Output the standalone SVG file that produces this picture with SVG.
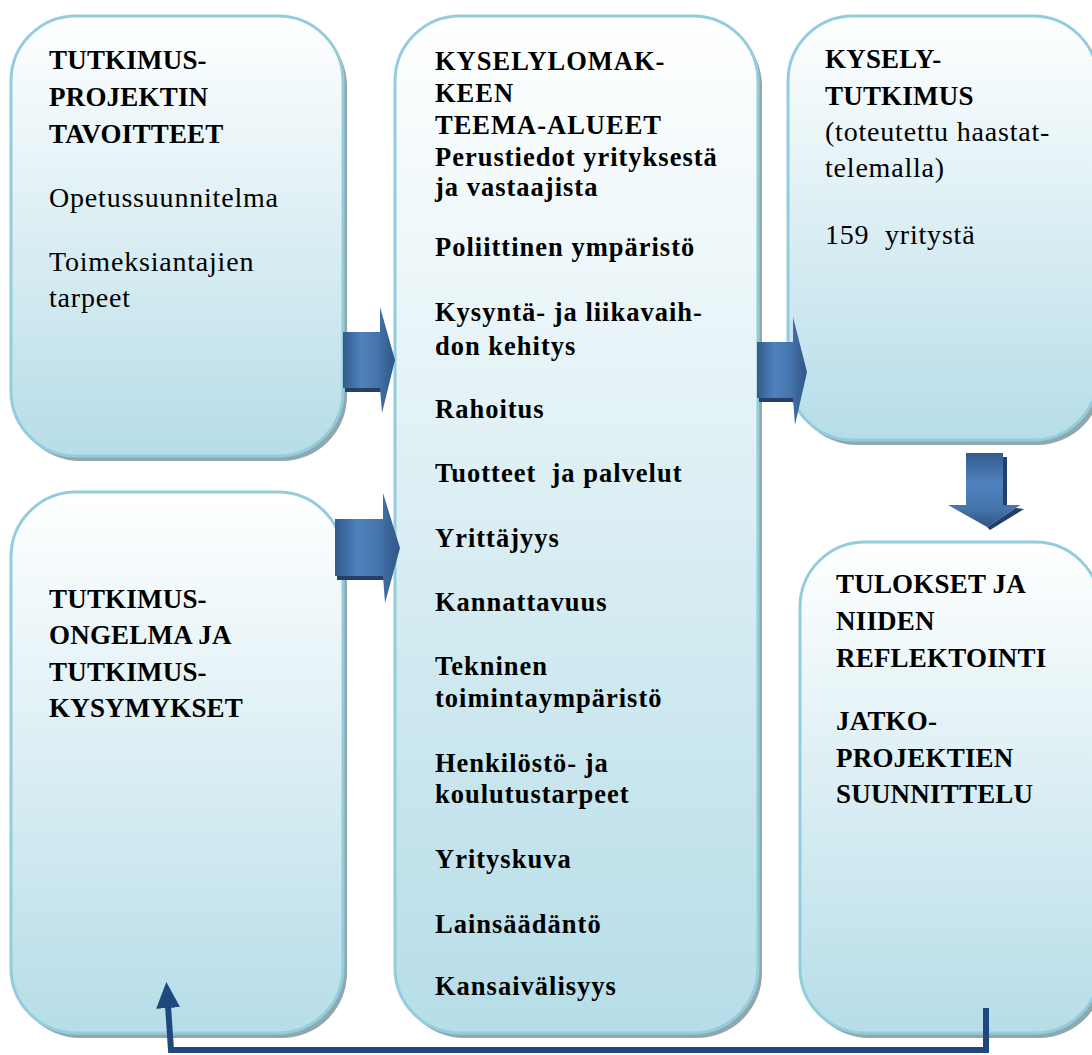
<svg xmlns="http://www.w3.org/2000/svg" width="1092" height="1055" viewBox="0 0 1092 1055">
<defs>
<style>
.box{fill:url(#bg);stroke:#93cddd;stroke-width:3}
.sh{fill:#8fa8ae}
text{font-family:"Liberation Serif","Times New Roman",serif;fill:#000}
.b{font-weight:bold;font-size:27px;letter-spacing:0.2px}
.bm{font-weight:bold;font-size:26.5px;letter-spacing:1px}
.r{font-size:28px;letter-spacing:0.8px}
.arr{fill:url(#ag)}
.arrv{fill:url(#agv)}
.ash{fill:#24406a}
.conn{fill:none;stroke:#1f497d;stroke-width:6}
</style>
<linearGradient id="bg" x1="0" y1="0" x2="0" y2="1">
<stop offset="0" stop-color="#ffffff"/>
<stop offset="1" stop-color="#b6dde8"/>
</linearGradient>
<linearGradient id="ag" x1="0" y1="0" x2="1" y2="0">
<stop offset="0" stop-color="#335b8c"/>
<stop offset="0.35" stop-color="#4f81bd"/>
<stop offset="0.65" stop-color="#4675ad"/>
<stop offset="1" stop-color="#2f5586"/>
</linearGradient>
<linearGradient id="agv" x1="0" y1="0" x2="0" y2="1">
<stop offset="0" stop-color="#335b8c"/>
<stop offset="0.4" stop-color="#4f81bd"/>
<stop offset="0.75" stop-color="#4675ad"/>
<stop offset="1" stop-color="#2f5586"/>
</linearGradient>
<marker id="ah" markerUnits="userSpaceOnUse" markerWidth="26" markerHeight="26" viewBox="0 0 26 26" refX="2" refY="13" orient="auto">
<path d="M0,1 L26,13 L0,25 z" fill="#1f497d"/>
</marker>
</defs>
<rect width="1092" height="1055" fill="#ffffff"/>

<g id="node-tavoitteet">
<rect class="sh" x="15" y="21" width="332" height="440" rx="65"/>
<rect class="box" x="11" y="16" width="332" height="440" rx="65"/>
<text class="b" x="49" y="69">TUTKIMUS-</text>
<text class="b" x="49" y="106">PROJEKTIN</text>
<text class="b" x="49" y="143">TAVOITTEET</text>
<text class="r" x="49" y="207">Opetussuunnitelma</text>
<text class="r" x="49" y="271">Toimeksiantajien</text>
<text class="r" x="49" y="307">tarpeet</text>
</g>

<g id="node-ongelma">
<rect class="sh" x="15" y="497" width="332" height="541" rx="65"/>
<rect class="box" x="11" y="492" width="332" height="541" rx="65"/>
<text class="b" x="49" y="608">TUTKIMUS-</text>
<text class="b" x="49" y="644">ONGELMA JA</text>
<text class="b" x="49" y="681">TUTKIMUS-</text>
<text class="b" x="49" y="717">KYSYMYKSET</text>
</g>

<g id="node-teema">
<rect class="sh" x="399" y="21" width="363" height="1017" rx="65"/>
<rect class="box" x="395" y="16" width="363" height="1017" rx="65"/>
<text class="bm" x="435" y="70">KYSELYLOMAK-</text>
<text class="bm" x="435" y="102">KEEN</text>
<text class="bm" x="435" y="134">TEEMA-ALUEET</text>
<text class="bm" x="435" y="166">Perustiedot yrityksestä</text>
<text class="bm" x="435" y="196">ja vastaajista</text>
<text class="bm" x="435" y="256">Poliittinen ympäristö</text>
<text class="bm" x="435" y="321">Kysyntä- ja liikavaih-</text>
<text class="bm" x="435" y="355">don kehitys</text>
<text class="bm" x="435" y="418">Rahoitus</text>
<text class="bm" x="435" y="482" xml:space="preserve">Tuotteet  ja palvelut</text>
<text class="bm" x="435" y="547">Yrittäjyys</text>
<text class="bm" x="435" y="611">Kannattavuus</text>
<text class="bm" x="435" y="675">Tekninen</text>
<text class="bm" x="435" y="707">toimintaympäristö</text>
<text class="bm" x="435" y="772">Henkilöstö- ja</text>
<text class="bm" x="435" y="803">koulutustarpeet</text>
<text class="bm" x="435" y="868">Yrityskuva</text>
<text class="bm" x="435" y="933">Lainsäädäntö</text>
<text class="bm" x="435" y="995">Kansaivälisyys</text>
</g>

<g id="node-kysely">
<rect class="sh" x="792" y="21" width="310" height="424" rx="65"/>
<rect class="box" x="788" y="16" width="310" height="424" rx="65"/>
<text class="b" x="825" y="68">KYSELY-</text>
<text class="b" x="825" y="105">TUTKIMUS</text>
<text class="r" x="825" y="141">(toteutettu haastat-</text>
<text class="r" x="825" y="177">telemalla)</text>
<text class="r" x="825" y="244" xml:space="preserve">159  yritystä</text>
</g>

<g id="node-tulokset">
<rect class="sh" x="804" y="547" width="300" height="491" rx="65"/>
<rect class="box" x="800" y="542" width="300" height="491" rx="65"/>
<text class="b" x="836" y="593">TULOKSET JA</text>
<text class="b" x="836" y="630">NIIDEN</text>
<text class="b" x="836" y="667">REFLEKTOINTI</text>
<text class="b" x="836" y="730">JATKO-</text>
<text class="b" x="836" y="767">PROJEKTIEN</text>
<text class="b" x="836" y="803">SUUNNITTELU</text>
</g>

<g id="connectors">
<path class="conn" d="M986,1008 L986,1050 L171,1050 L168,1006" marker-end="url(#ah)"/>
<g id="arrow1">
<polygon class="ash" points="345,392 382,392 382,388 345,388"/>
<polygon class="arr" points="343,332 380,332 380,307 395,360 382,413 380,388 343,388"/>
</g>
<g id="arrow2">
<polygon class="ash" points="337,580 385,580 385,576 337,576"/>
<polygon class="arr" points="335,519 383,519 383,493 400,548 385,603 383,576 335,576"/>
</g>
<g id="arrow3">
<polygon class="ash" points="759,402 795,402 795,398 759,398"/>
<polygon class="arr" points="757,342 793,342 793,317 807,372 795,425 793,398 757,398"/>
</g>
<g id="arrow4">
<polygon class="ash" points="1003,457 1007,457 1007,507 1024,509 990,530 987,527 1020,505 1003,505"/>
<polygon class="arrv" points="966,453 1003,453 1003,505 1020,505 987,527 948,505 966,505"/>
</g>
</g>
</svg>
